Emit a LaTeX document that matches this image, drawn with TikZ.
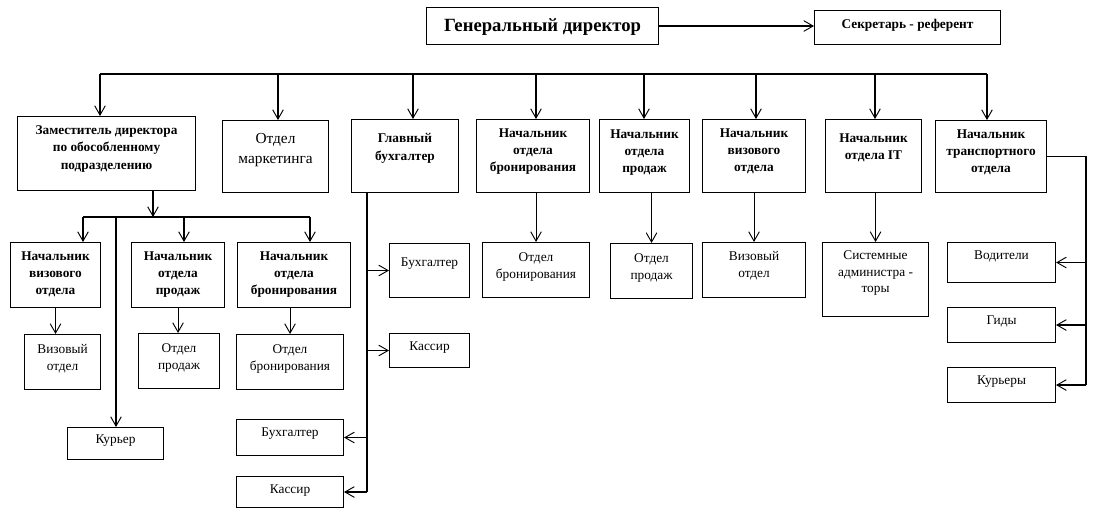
\documentclass[tikz,border=0pt]{standalone}
\usepackage{fontspec}
\setmainfont{Liberation Serif}
\usetikzlibrary{calc,arrows.meta}

\tikzset{every picture/.style={line width=0.8pt}}
\tikzset{
  box/.style 2 args={draw, anchor=north west, inner sep=0pt, minimum width=#1*0.75pt, minimum height=#2*0.75pt},
  hd/.style={font=\fontsize{10}{13}\selectfont\bfseries, align=center, inner sep=0pt, anchor=north},
  tx/.style={font=\fontsize{10}{12.5}\selectfont, align=center, inner sep=0pt, anchor=north},
  arr/.style={-{Straight Barb[length=7pt,width=8pt,line width=0.7pt]}},
}

\begin{document}
\begin{tikzpicture}[x=0.75pt,y=0.75pt,yscale=-1,xscale=1]
\useasboundingbox (0,0) rectangle (1101,523);

%Shape: Rectangle -- top row
\node [box={232}{37}] (gd) at (426,7) {};
\node [box={186}{34}] (sec) at (814,10) {};
%Shape: Rectangle -- heads
\node [box={178}{74}] (zam) at (17,116) {};
\node [box={106}{72}] (mkt) at (222,120) {};
\node [box={107}{73}] (gb) at (351,119) {};
\node [box={113}{73}] (nbr) at (476,119) {};
\node [box={90}{73}] (npr) at (599,119) {};
\node [box={103}{73}] (nvz) at (702,119) {};
\node [box={96}{73}] (nit) at (825,119) {};
\node [box={111}{72}] (ntr) at (935,120) {};
%Shape: Rectangle -- branch of the deputy
\node [box={90}{65}] (snvz) at (10,242) {};
\node [box={93}{65}] (snpr) at (131,242) {};
\node [box={113}{65}] (snbr) at (237,242) {};
\node [box={76}{55}] (svz) at (24,334) {};
\node [box={81}{55}] (spr) at (138,333) {};
\node [box={107}{55}] (sbr) at (236,334) {};
\node [box={96}{32}] (kur) at (67,427) {};
\node [box={107}{36}] (buh2) at (236,419) {};
\node [box={107}{31}] (kas2) at (236,476) {};
%Shape: Rectangle -- accounts
\node [box={80}{54}] (buh1) at (389,243) {};
\node [box={80}{34}] (kas1) at (389,333) {};
%Shape: Rectangle -- departments
\node [box={107}{55}] (obr) at (482,242) {};
\node [box={82}{55}] (opr) at (610,243) {};
\node [box={103}{55}] (ovz) at (702,242) {};
\node [box={106}{74}] (sys) at (822,242) {};
\node [box={108}{40}] (vod) at (947,242) {};
\node [box={108}{35}] (gid) at (947,307) {};
\node [box={108}{35}] (kry) at (947,367) {};

% Text Node
\node [hd, font=\fontsize{14}{16}\selectfont\bfseries] (gd-t) at ($(gd.north)+(0,11)$) {Генеральный директор};
\node [hd] (sec-t) at ($(sec.north)+(0,9)$) {Секретарь - референт};
\node [hd] (zam-t) at ($(zam.north)+(0,9)$) {Заместитель директора\\по обособленному\\подразделению};
\node [tx, font=\fontsize{11.5}{15}\selectfont] (mkt-t) at ($(mkt.north)+(0,13)$) {Отдел\\маркетинга};
\node [hd] (gb-t) at ($(gb.north)+(0,14)$) {Главный\\бухгалтер};
\node [hd] (nbr-t) at ($(nbr.north)+(0,9)$) {Начальник\\отдела\\бронирования};
\node [hd] (npr-t) at ($(npr.north)+(0,10)$) {Начальник\\отдела\\продаж};
\node [hd] (nvz-t) at ($(nvz.north)+(0,9)$) {Начальник\\визового\\отдела};
\node [hd] (nit-t) at ($(nit.north)+(0,14)$) {Начальник\\отдела IT};
\node [hd] (ntr-t) at ($(ntr.north)+(0,9)$) {Начальник\\транспортного\\отдела};
% Text Node
\node [hd] (snvz-t) at ($(snvz.north)+(0,9)$) {Начальник\\визового\\отдела};
\node [hd] (snpr-t) at ($(snpr.north)+(0,9)$) {Начальник\\отдела\\продаж};
\node [hd] (snbr-t) at ($(snbr.north)+(0,9)$) {Начальник\\отдела\\бронирования};
\node [tx] (svz-t) at ($(svz.north)+(0,10)$) {Визовый\\отдел};
\node [tx] (spr-t) at ($(spr.north)+(0,10)$) {Отдел\\продаж};
\node [tx] (sbr-t) at ($(sbr.north)+(0,10)$) {Отдел\\бронирования};
\node [tx] (kur-t) at ($(kur.north)+(0,7)$) {Курьер};
\node [tx] (buh2-t) at ($(buh2.north)+(0,8)$) {Бухгалтер};
\node [tx] (kas2-t) at ($(kas2.north)+(0,8)$) {Кассир};
\node [tx] (buh1-t) at ($(buh1.north)+(0,14)$) {Бухгалтер};
\node [tx] (kas1-t) at ($(kas1.north)+(0,8)$) {Кассир};
% Text Node
\node [tx] (obr-t) at ($(obr.north)+(0,10)$) {Отдел\\бронирования};
\node [tx] (opr-t) at ($(opr.north)+(0,10)$) {Отдел\\продаж};
\node [tx] (ovz-t) at ($(ovz.north)+(0,9)$) {Визовый\\отдел};
\node [tx] (sys-t) at ($(sys.north)+(0,8)$) {Системные\\администра -\\торы};
\node [tx] (vod-t) at ($(vod.north)+(0,8)$) {Водители};
\node [tx] (gid-t) at ($(gid.north)+(0,8)$) {Гиды};
\node [tx] (kry-t) at ($(kry.north)+(0,8)$) {Курьеры};

%Straight Lines -- director to secretary
\draw [arr] (gd.east) -- (gd.east -| sec.west);
%Straight Lines -- main bus
\coordinate (bus) at (0,74);
\draw (bus -| 100,0) -- (bus -| 987,0);
\foreach \n/\x in {zam/100, mkt/278, gb/413, nbr/536, npr/644, nvz/756, nit/875, ntr/987}
  \draw [arr] (bus -| \x,0) -- (\n.north -| \x,0);

%Straight Lines -- deputy branch
\coordinate (zb) at (153,217);
\draw [arr] (zam.south -| zb) -- (zb);
\draw (zb -| 83,0) -- (zb -| 310,0);
\foreach \n/\x in {snvz/83, snpr/184, snbr/310, kur/116}
  \draw [arr] (zb -| \x,0) -- (\n.north -| \x,0);
\draw [arr] (snvz.south) -- (snvz.south |- svz.north);
\draw [arr] (snpr.south) -- (snpr.south |- spr.north);
\draw [arr] (sbr.north |- snbr.south) -- (sbr.north);

%Straight Lines -- chief accountant
\coordinate (gbl) at (367,0);
\draw (gbl |- gb.south) -- (gbl |- kas2.east);
\foreach \n in {buh1, kas1}
  \draw [arr] (gbl |- \n.west) -- (\n.west);
\foreach \n in {buh2, kas2}
  \draw [arr] (gbl |- \n.east) -- (\n.east);

%Straight Lines -- department heads
\draw [arr] (obr.north |- nbr.south) -- (obr.north);
\draw [arr] (opr.north |- npr.south) -- (opr.north);
\draw [arr] (ovz.north |- nvz.south) -- (ovz.north);
\draw [arr] (sys.north |- nit.south) -- (sys.north);

%Straight Lines -- transport
\coordinate (trv) at (1086,0);
\draw (ntr.east) -- (trv |- ntr.east) -- (trv |- kry.east);
\foreach \n in {vod, gid, kry}
  \draw [arr] (trv |- \n.east) -- (\n.east);

\end{tikzpicture}
\end{document}
